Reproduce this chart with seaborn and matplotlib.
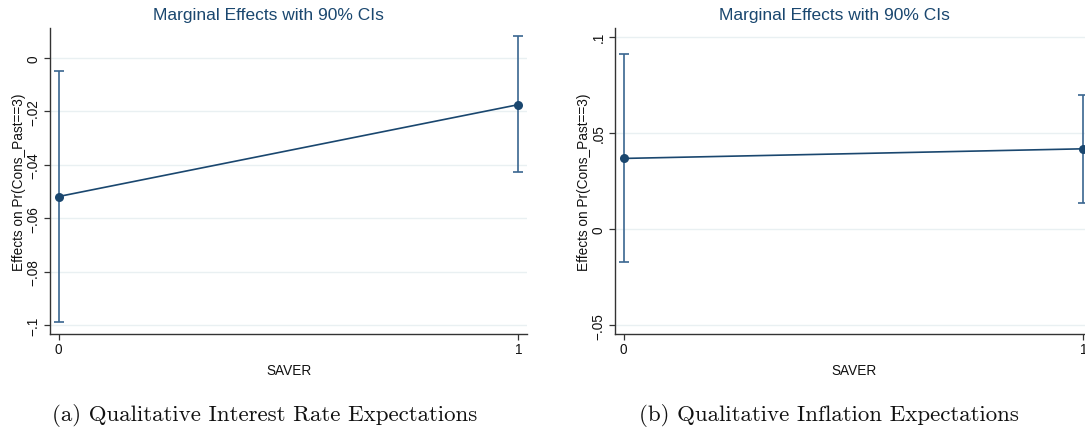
import matplotlib
matplotlib.use("Agg")
import matplotlib.pyplot as plt
import seaborn as sns
import pandas as pd

# ---- data ----
saver = [0, 1]
# panel (a): interest rate expectations
eff_a = [-0.0519, -0.0175]
lo_a = [-0.0988, -0.0427]
hi_a = [-0.0050, 0.0081]
yticks_a = [0, -0.02, -0.04, -0.06, -0.08, -0.1]
yticklabels_a = ["0", "\u2212.02", "\u2212.04", "\u2212.06", "\u2212.08", "\u2212.1"]
# panel (b): inflation expectations
eff_b = [0.0367, 0.0417]
lo_b = [-0.0173, 0.0135]
hi_b = [0.0911, 0.0694]
yticks_b = [-0.05, 0, 0.05, 0.1]
yticklabels_b = ["\u2212.05", "0", ".05", ".1"]
xticks = [0, 1]
xticklabels = ["0", "1"]

title = "Marginal Effects with 90% CIs"
ylabel = "Effects on Pr(Cons_Past==3)"
xlabel = "SAVER"
captions = ["(a) Qualitative Interest Rate Expectations",
            "(b) Qualitative Inflation Expectations"]

sns.set_theme(style="white")
plt.rcParams["font.family"] = ["Liberation Sans", "DejaVu Sans"]

NAVY = "#1a476f"
CI = "#3a6690"
GRID = "#e9f0f2"

fig = plt.figure(figsize=(10.85, 4.39), dpi=100)
W, H = 1085, 439

def px_axes(x0, x1, ytop, ybot):
    return fig.add_axes([x0 / W, 1 - ybot / H, (x1 - x0) / W, (ybot - ytop) / H])

ax_a = px_axes(50, 527.3, 29.3, 335)
ax_b = px_axes(615, 1092.3, 29.3, 335)

panels = [
    (ax_a, eff_a, lo_a, hi_a, yticks_a, yticklabels_a, (-0.1034, 0.0111)),
    (ax_b, eff_b, lo_b, hi_b, yticks_b, yticklabels_b, (-0.0545, 0.1043)),
]

for ax, eff, lo, hi, yt, ytl, ylim in panels:
    df = pd.DataFrame({"SAVER": saver, "eff": eff, "lo": lo, "hi": hi})
    for t in yt:
        ax.axhline(t, color=GRID, lw=1.0, zorder=0)
    ax.errorbar(df["SAVER"], df["eff"],
                yerr=[df["eff"] - df["lo"], df["hi"] - df["eff"]],
                fmt="none", ecolor=CI, elinewidth=1.2, capsize=3.5,
                capthick=1.2, zorder=2)
    sns.lineplot(data=df, x="SAVER", y="eff", ax=ax, color=NAVY, lw=1.2,
                 marker="o", markersize=6.5, markeredgewidth=0,
                 markerfacecolor=NAVY, zorder=3)
    ax.set_xlim(-0.0189, 1.0196)
    ax.set_ylim(*ylim)
    ax.set_xticks(xticks)
    ax.set_xticklabels(xticklabels)
    ax.set_yticks(yt)
    ax.set_yticklabels(ytl, rotation=90, va="center")
    ax.tick_params(axis="both", which="major", direction="out", length=4,
                   width=0.9, color="#333333", labelsize=9.8,
                   labelcolor="#111111", left=True, bottom=True)
    ax.tick_params(axis="y", pad=3)
    ax.tick_params(axis="x", pad=2)
    for s in ["top", "right"]:
        ax.spines[s].set_visible(False)
    for s in ["left", "bottom"]:
        ax.spines[s].set_color("#333333")
        ax.spines[s].set_linewidth(1.0)
    ax.set_xlabel(xlabel, fontsize=9.8, color="#111111", labelpad=5)
    ax.set_ylabel(ylabel, fontsize=9.8, color="#111111", labelpad=0)
    ax.grid(False)

fig.text(268 / W, 1 - 15.5 / H, title, ha="center", va="center",
         fontsize=12.5, color=NAVY)
fig.text(834 / W, 1 - 15.5 / H, title, ha="center", va="center",
         fontsize=12.5, color=NAVY)

cap_font = ["cmr10", "DejaVu Serif"]
fig.text(265 / W, 1 - 421 / H, captions[0], ha="center", va="baseline",
         fontsize=16.5, family=cap_font, color="#111111")
fig.text(829 / W, 1 - 421 / H, captions[1], ha="center", va="baseline",
         fontsize=16.5, family=cap_font, color="#111111")

fig.savefig("out.png", dpi=100, facecolor="white")
